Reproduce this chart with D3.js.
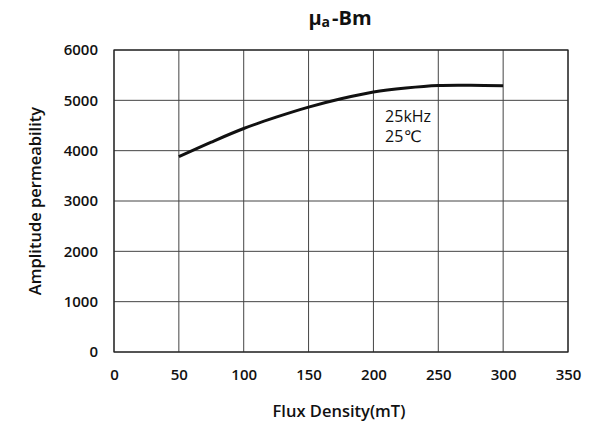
<!DOCTYPE html>
<html>
<head>
<meta charset="utf-8">
<script src="https://cdn.jsdelivr.net/npm/d3@7"></script>
<style>
  body { margin: 0; background: #fff; }
  text { font-family: "Open Sans", "DejaVu Sans", sans-serif; }
</style>
</head>
<body>
<div class="canvas"></div>
<script>
// data
const fluxDensity = [50, 75, 100, 125, 150, 175, 200, 225, 250, 275, 300];
const permeability = [3880, 4170, 4440, 4665, 4865, 5030, 5165, 5245, 5295, 5300, 5290];
const xTicks = [0, 50, 100, 150, 200, 250, 300, 350];
const yTicks = [0, 1000, 2000, 3000, 4000, 5000, 6000];
const noteLines = ["25kHz", "25\u2103"];

const margin = { top: 50, right: 42, bottom: 73, left: 114 };
const width = 610, height = 425;
const graphWidth = width - margin.left - margin.right;
const graphHeight = height - margin.top - margin.bottom;

const svg = d3.select('.canvas')
  .append('svg')
  .attr('width', width)
  .attr('height', height);

const graph = svg.append('g')
  .attr('transform', `translate(${margin.left}, ${margin.top})`);

const x = d3.scaleLinear().domain([0, 350]).range([0, graphWidth]);
const y = d3.scaleLinear().domain([0, 6000]).range([graphHeight, 0]);

// grid
graph.append('g')
  .selectAll('line.v')
  .data(xTicks)
  .enter().append('line')
  .attr('x1', d => x(d)).attr('x2', d => x(d))
  .attr('y1', 0).attr('y2', graphHeight)
  .attr('stroke', '#444').attr('stroke-width', 1);

graph.append('g')
  .selectAll('line.h')
  .data(yTicks)
  .enter().append('line')
  .attr('x1', 0).attr('x2', graphWidth)
  .attr('y1', d => y(d)).attr('y2', d => y(d))
  .attr('stroke', '#444').attr('stroke-width', 1);

graph.append('rect')
  .attr('width', graphWidth).attr('height', graphHeight)
  .attr('fill', 'none').attr('stroke', '#222').attr('stroke-width', 1.2);

// axes (labels only)
const xAxis = d3.axisBottom(x).tickValues(xTicks).tickSize(0).tickPadding(17).tickFormat(d3.format('d'));
const yAxis = d3.axisLeft(y).tickValues(yTicks).tickSize(0).tickPadding(16).tickFormat(d3.format('d'));

const xAxisGroup = graph.append('g')
  .attr('transform', `translate(0, ${graphHeight})`)
  .call(xAxis);
const yAxisGroup = graph.append('g').call(yAxis);

[xAxisGroup, yAxisGroup].forEach(g => {
  g.select('.domain').remove();
  g.selectAll('text')
    .attr('font-family', '"Open Sans", sans-serif')
    .attr('font-size', 15)
    .attr('font-weight', 600)
    .attr('fill', '#111');
});

// curve
const line = d3.line()
  .x((d, i) => x(fluxDensity[i]))
  .y(d => y(d))
  .curve(d3.curveCatmullRom);

graph.append('path')
  .datum(permeability)
  .attr('fill', 'none')
  .attr('stroke', '#111')
  .attr('stroke-width', 3)
  .attr('d', line);

// note
graph.append('g')
  .selectAll('text')
  .data(noteLines)
  .enter().append('text')
  .attr('x', x(209))
  .attr('y', (d, i) => y(4560) + i * 20)
  .attr('font-size', 16)
  .attr('fill', '#111')
  .text(d => d);

// title
const title = svg.append('text')
  .attr('x', 340).attr('y', 25)
  .attr('text-anchor', 'middle')
  .attr('font-size', 20)
  .attr('font-weight', 700)
  .attr('fill', '#111');
title.append('tspan').text('\u03bc');
title.append('tspan').attr('font-size', 14).attr('dy', 2).text('a');
title.append('tspan').attr('dy', -2).attr('dx', 2).text('-Bm');

// axis titles
svg.append('text')
  .attr('x', margin.left + graphWidth / 2 - 2)
  .attr('y', 417)
  .attr('text-anchor', 'middle')
  .attr('font-size', 16.5)
  .attr('font-weight', 600)
  .attr('fill', '#111')
  .text('Flux Density(mT)');

svg.append('text')
  .attr('transform', `translate(41, ${margin.top + graphHeight / 2}) rotate(-90)`)
  .attr('text-anchor', 'middle')
  .attr('font-size', 16.5)
  .attr('font-weight', 600)
  .attr('fill', '#111')
  .text('Amplitude permeability');
</script>
</body>
</html>
